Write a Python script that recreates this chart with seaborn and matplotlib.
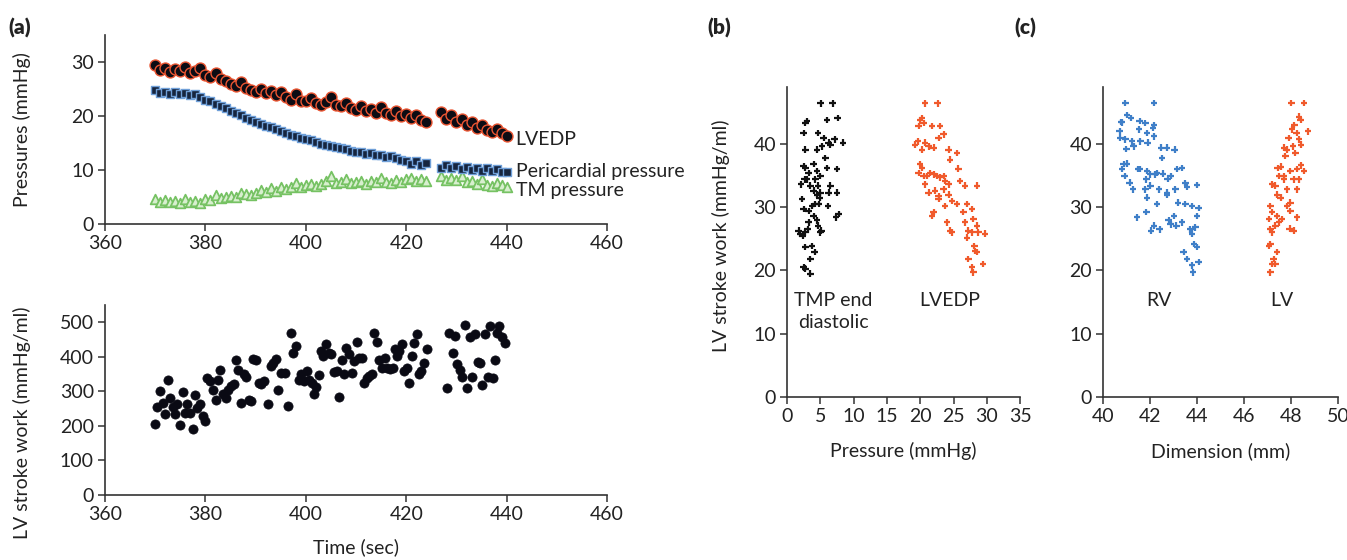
import matplotlib
matplotlib.use("Agg")
import matplotlib.pyplot as plt
import seaborn as sns
import pandas as pd

sns.set_theme(style="ticks")
plt.rcParams['font.family'] = ['Lato', 'DejaVu Sans']

# ---- panel (a) top: pressures vs time (1 s resolution, gap at 425-426 s)
time_s = [370, 371, 372, 373, 374, 375, 376, 377, 378, 379,
          380, 381, 382, 383, 384, 385, 386, 387, 388, 389,
          390, 391, 392, 393, 394, 395, 396, 397, 398, 399,
          400, 401, 402, 403, 404, 405, 406, 407, 408, 409,
          410, 411, 412, 413, 414, 415, 416, 417, 418, 419,
          420, 421, 422, 423, 424,
          427, 428, 429, 430, 431, 432, 433, 434, 435, 436, 437, 438, 439, 440]
lvedp = [29.5, 28.6, 28.9, 28.2, 28.7, 28.4, 29.0, 27.9, 28.3, 28.8,
         27.6, 27.2, 27.9, 26.8, 26.4, 26.0, 25.6, 26.3, 25.2, 24.8,
         24.5, 25.0, 24.2, 24.6, 23.9, 24.5, 23.5, 23.0, 24.0, 22.8,
         22.7, 23.4, 22.4, 22.0, 22.6, 23.5, 22.0, 21.8, 22.5, 21.4,
         21.2, 21.8, 20.9, 21.3, 20.6, 21.6, 20.5, 20.2, 20.9, 20.0,
         20.3, 19.6, 20.1, 19.3, 18.9,
         20.8, 19.5, 20.2, 18.9, 19.4, 18.3, 18.9, 17.8, 18.4, 17.5, 17.0, 17.6, 16.9, 16.3]
pericardial = [24.8, 24.3, 24.5, 24.0, 24.4, 24.1, 24.3, 23.8, 24.0, 23.5,
               23.0, 22.8, 22.3, 21.9, 21.4, 20.9, 20.5, 20.1, 19.6, 19.2,
               18.8, 18.6, 18.2, 17.9, 17.6, 17.3, 16.8, 16.5, 16.3, 16.0,
               15.7, 15.5, 15.1, 14.9, 14.6, 14.4, 14.3, 14.0, 13.8, 13.6,
               13.4, 13.3, 13.0, 13.1, 12.8, 12.7, 12.4, 12.6, 12.2, 11.9,
               11.7, 11.2, 11.6, 11.0, 11.3,
               10.3, 10.9, 10.4, 10.7, 10.2, 10.6, 10.0, 10.4, 9.9, 10.3, 9.8, 10.1, 9.6, 9.6]
tm_pressure = [4.7, 4.1, 4.4, 4.0, 4.3, 3.9, 4.6, 4.0, 4.2, 3.8,
               4.6, 4.4, 5.3, 4.8, 5.0, 5.2, 5.0, 5.8, 5.5, 5.3,
               5.8, 6.3, 5.9, 6.6, 6.2, 6.8, 6.5, 6.9, 7.6, 6.9,
               7.2, 7.5, 7.1, 7.4, 8.0, 8.8, 7.6, 7.8, 8.4, 7.6,
               7.7, 8.0, 7.5, 7.9, 7.7, 8.5, 7.8, 7.6, 8.2, 7.8,
               8.3, 8.6, 8.0, 8.3, 7.9,
               8.8, 8.2, 8.5, 8.1, 8.9, 7.7, 7.9, 7.4, 8.3, 7.2, 7.0, 7.6, 7.2, 6.9]

# ---- panel (a) bottom: LV stroke work vs time
sw_time = [370.0, 371.0, 370.4, 371.5, 372.0, 372.5, 372.9, 373.5, 373.9, 374.4,
           374.9, 375.5, 375.9, 376.4, 376.9, 377.5, 377.9, 378.4, 378.9, 379.5,
           380.0, 380.4, 380.9, 381.5, 382.0, 382.4, 382.9, 383.4, 384.0, 384.5,
           385.0, 385.6, 386.0, 386.5, 387.0, 387.6, 388.1, 388.6, 389.1, 389.5,
           390.1, 390.6, 391.1, 391.7, 392.5, 393.0, 393.5, 394.1, 394.5, 395.0,
           395.9, 396.5, 397.0, 397.5, 398.0, 398.6, 399.1, 399.6, 400.2, 400.7,
           401.2, 401.6, 402.0, 402.6, 403.0, 403.5, 404.0, 404.6, 405.1, 405.6,
           406.2, 406.6, 407.1, 407.5, 408.0, 408.5, 409.1, 409.6, 410.1, 410.5,
           411.1, 411.6, 412.1, 412.6, 413.1, 413.6, 414.1, 414.6, 415.2, 415.7,
           416.2, 416.8, 417.3, 417.7, 418.1, 418.6, 419.1, 419.6, 420.1, 420.6,
           421.1, 421.6, 422.1, 422.6, 423.0, 423.5, 424.1,
           428.1, 428.6, 429.3, 429.7, 430.2, 430.7, 431.1, 431.6, 432.1, 432.6,
           433.0, 433.7, 434.2, 434.7, 435.1, 435.6, 436.2, 436.7, 437.2, 437.7,
           438.0, 438.5, 439.1, 439.6]
sw_value = [206, 300, 255, 265, 235, 334, 281, 255, 235, 262,
            202, 297, 237, 262, 237, 191, 288, 252, 262, 228,
            213, 339, 329, 305, 276, 334, 361, 291, 281, 305,
            315, 320, 390, 361, 266, 349, 342, 276, 271, 394,
            390, 323, 320, 329, 264, 373, 383, 394, 303, 354,
            354, 259, 470, 412, 431, 334, 349, 329, 359, 334,
            325, 291, 313, 346, 417, 402, 436, 412, 407, 356,
            359, 283, 392, 349, 426, 407, 354, 388, 443, 397,
            397, 325, 339, 344, 349, 470, 443, 392, 368, 397,
            368, 365, 368, 422, 402, 417, 436, 359, 368, 325,
            402, 441, 465, 349, 359, 383, 422,
            310, 470, 412, 460, 378, 363, 342, 491, 310, 458,
            342, 465, 385, 383, 317, 465, 342, 489, 339, 390,
            470, 489, 458, 441]

# ---- panel (b): stroke work vs pressure
tmp_pressure = [5.05, 6.85, 2.75, 3.0, 6.0, 7.6, 2.5, 4.65, 5.5, 6.25,
                7.15, 8.4, 2.75, 4.5, 5.25, 6.5, 5.75, 2.5, 2.75, 3.25,
                4.0, 4.5, 5.0, 6.0, 7.5, 2.1, 3.0, 3.5, 4.25, 4.65,
                5.0, 4.5, 4.9, 6.5, 6.25, 7.5, 2.5, 3.25, 3.75, 4.25,
                6.15, 7.75, 7.35, 3.25, 4.0, 4.5, 4.65, 5.0, 1.75, 2.0,
                2.75, 3.1, 2.35, 5.15, 2.75, 3.75, 4.15, 3.5, 2.5, 2.75,
                3.5, 4.75, 4.0, 2.25, 2.65]
tmp_sw = [46.4, 46.4, 43.3, 43.6, 43.8, 44.1, 41.7, 41.7, 40.9, 40.2,
          40.7, 40.2, 39.1, 39.1, 39.6, 39.9, 37.8, 36.5, 36.2, 35.4,
          36.8, 35.7, 34.9, 36.2, 36.0, 33.6, 34.4, 33.4, 34.4, 33.4,
          32.3, 32.0, 31.5, 33.4, 32.3, 32.3, 29.7, 29.4, 30.2, 30.5,
          30.2, 28.9, 28.4, 27.6, 28.6, 27.9, 27.1, 26.0, 26.3, 25.8,
          26.0, 26.5, 25.5, 26.3, 23.7, 23.9, 22.9, 21.8, 20.5, 20.3,
          19.5, 30.5, 32.6, 31.3, 34.4]
lvedp_pressure = [20.75, 22.6, 20.0, 20.25, 20.5, 19.75, 21.75, 23.0, 19.25, 19.65,
                  20.25, 20.75, 21.25, 22.0, 22.75, 23.5, 24.25, 25.5, 24.5, 20.0,
                  20.25, 19.75, 20.5, 21.0, 21.5, 22.0, 22.5, 23.0, 23.5, 23.75,
                  24.25, 25.75, 26.0, 26.75, 20.75, 21.25, 22.25, 22.75, 23.5, 24.25,
                  24.75, 25.5, 27.0, 22.75, 21.75, 22.0, 23.75, 26.5, 27.75, 24.0,
                  24.5, 24.75, 26.75, 27.25, 27.0, 28.0, 28.5, 28.75, 27.75, 28.5,
                  29.75, 28.15, 28.25, 28.5, 27.25, 27.75, 28.0, 29.4]
lvedp_sw = [46.4, 46.4, 43.8, 44.1, 43.3, 42.8, 42.8, 42.8, 39.9, 40.4,
            39.1, 40.2, 39.6, 39.4, 40.9, 41.5, 39.1, 38.6, 37.5, 36.8,
            36.2, 35.4, 34.9, 34.9, 35.4, 35.2, 34.9, 34.7, 34.9, 34.1,
            33.6, 36.1, 34.1, 33.4, 33.6, 32.3, 32.6, 31.8, 32.8, 32.0,
            31.0, 30.5, 30.5, 31.3, 28.6, 29.2, 30.2, 29.2, 29.7, 27.6,
            26.3, 26.0, 27.6, 26.3, 25.2, 28.1, 27.1, 26.0, 26.0, 33.4,
            25.8, 23.9, 23.1, 22.9, 21.8, 20.5, 19.7, 21.0]

# ---- panel (c): stroke work vs dimension
rv_dim = [40.95, 42.16, 41.02, 41.19, 40.77, 40.81, 41.56, 41.80, 42.16, 42.13,
          41.52, 40.71, 40.74, 40.95, 40.99, 41.23, 41.30, 41.59, 41.87, 41.90,
          42.16, 42.47, 42.72, 43.05, 42.51, 40.88, 41.02, 40.81, 40.92, 41.13,
          41.28, 41.48, 41.56, 41.87, 41.84, 42.01, 42.23, 42.30, 42.54, 42.75,
          42.87, 43.15, 43.36, 43.50, 43.57, 44.00, 41.80, 41.87, 42.01, 42.37,
          42.72, 43.08, 43.18, 43.50, 43.79, 44.07, 41.45, 41.84, 42.04, 42.41,
          42.79, 42.87, 43.01, 43.12, 43.36, 43.72, 43.79, 43.93, 44.00, 43.86,
          44.00, 43.43, 43.57, 43.79, 44.07, 43.83, 42.30, 42.72, 42.16]
rv_sw = [46.5, 46.5, 44.6, 44.1, 43.5, 43.4, 43.6, 43.3, 43.0, 42.5,
         42.3, 42.0, 40.9, 40.7, 39.2, 40.4, 39.6, 40.4, 41.7, 40.2,
         41.2, 39.4, 39.4, 39.1, 37.8, 36.8, 36.9, 36.0, 34.9, 33.9,
         32.8, 36.0, 36.0, 35.7, 34.4, 35.2, 35.2, 35.4, 35.3, 34.5,
         34.9, 36.0, 36.2, 33.8, 33.2, 33.5, 32.8, 31.5, 33.4, 32.8,
         32.3, 32.8, 30.7, 30.5, 30.2, 29.9, 28.4, 29.2, 26.3, 26.5,
         27.9, 27.3, 28.6, 27.1, 27.6, 26.5, 25.8, 26.8, 28.6, 24.2,
         23.7, 22.9, 21.8, 20.8, 21.3, 19.7, 30.5, 32.0, 27.1]
lv_dim = [48.01, 48.54, 48.33, 48.40, 48.14, 48.04, 48.23, 48.71, 47.90, 48.33,
          48.43, 47.69, 47.83, 48.09, 47.76, 48.18, 47.43, 47.55, 47.97, 48.26,
          48.43, 48.54, 48.11, 48.33, 47.19, 47.33, 47.69, 47.83, 48.26, 47.40,
          47.55, 47.83, 47.97, 47.12, 47.19, 47.05, 47.40, 47.62, 47.97, 48.26,
          47.12, 47.19, 47.33, 47.48, 47.94, 48.11, 47.12, 47.05, 47.40, 47.26,
          47.19, 47.12, 47.33, 47.69, 47.48]
lv_sw = [46.5, 46.5, 44.3, 43.8, 43.0, 42.3, 41.7, 42.0, 40.9, 40.7,
         39.9, 39.4, 39.1, 39.6, 38.1, 38.6, 36.2, 36.4, 35.7, 36.0,
         36.6, 35.7, 34.4, 34.4, 33.6, 33.4, 34.4, 32.8, 32.8, 32.0,
         31.5, 30.2, 30.7, 30.2, 29.2, 28.1, 28.6, 28.1, 29.4, 28.4,
         26.5, 26.0, 27.1, 27.6, 26.6, 26.3, 24.2, 23.9, 22.9, 21.8,
         21.0, 19.7, 21.0, 34.9, 34.9]

RED = "#ea5532"
BLUE = "#3f7fc8"
DARK = "#222222"

fig = plt.figure(figsize=(13.47, 5.6), dpi=100)
ax1 = fig.add_axes([0.078, 0.600, 0.3727, 0.3375])
ax2 = fig.add_axes([0.078, 0.1161, 0.3727, 0.3393])
ax3 = fig.add_axes([0.5843, 0.2911, 0.1730, 0.5536])
ax4 = fig.add_axes([0.8189, 0.2911, 0.1745, 0.5536])

press = pd.DataFrame({"t": time_s, "lvedp": lvedp, "peri": pericardial, "tm": tm_pressure})
sns.scatterplot(data=press, x="t", y="tm", ax=ax1, marker="^", s=48,
                color="#d8efcf", edgecolor="#76c263", linewidth=1.3, zorder=2)
sns.scatterplot(data=press, x="t", y="peri", ax=ax1, marker="s", s=34,
                color="#16253f", edgecolor="#6f9fd8", linewidth=1.0, zorder=3)
sns.scatterplot(data=press, x="t", y="lvedp", ax=ax1, marker="o", s=62,
                color="#0c0c14", edgecolor=RED, linewidth=1.0, zorder=4)

sw = pd.DataFrame({"t": sw_time, "sw": sw_value})
sns.scatterplot(data=sw, x="t", y="sw", ax=ax2, marker="o", s=44,
                color="#0a0a14", edgecolor="#0a0a14", linewidth=0.5)

bdf = pd.concat([pd.DataFrame({"p": tmp_pressure, "sw": tmp_sw, "k": "TMP"}),
                 pd.DataFrame({"p": lvedp_pressure, "sw": lvedp_sw, "k": "LVEDP"})])
sns.scatterplot(data=bdf, x="p", y="sw", hue="k", palette={"TMP": "#111111", "LVEDP": "#f05a2c"},
                ax=ax3, marker="+", s=22, linewidth=1.6, legend=False)

cdf = pd.concat([pd.DataFrame({"d": rv_dim, "sw": rv_sw, "k": "RV"}),
                 pd.DataFrame({"d": lv_dim, "sw": lv_sw, "k": "LV"})])
sns.scatterplot(data=cdf, x="d", y="sw", hue="k", palette={"RV": BLUE, "LV": "#f05a2c"},
                ax=ax4, marker="+", s=22, linewidth=1.6, legend=False)

FS = 14
for ax in (ax1, ax2, ax3, ax4):
    sns.despine(ax=ax)
    for side in ("left", "bottom"):
        ax.spines[side].set_color("#333333")
        ax.spines[side].set_linewidth(1.2)
    ax.tick_params(direction="out", length=5, width=1.1, color="#333333",
                   labelsize=FS, labelcolor=DARK, pad=3)
    ax.set_xlabel("")
    ax.set_ylabel("")

ax1.set_xlim(360, 460)
ax1.set_ylim(0, 35)
ax1.set_xticks([360, 380, 400, 420, 440, 460])
ax1.set_yticks([0, 10, 20, 30])
ax1.set_ylabel("Pressures (mmHg)", fontsize=FS, color=DARK)
ax1.yaxis.set_label_coords(-0.148, 0.5)
ax1.text(441.7, 15.7, "LVEDP", fontsize=FS, color=DARK, va="center", clip_on=False)
ax1.text(441.9, 9.7, "Pericardial pressure", fontsize=FS, color=DARK, va="center", clip_on=False)
ax1.text(441.9, 6.2, "TM pressure", fontsize=FS, color=DARK, va="center", clip_on=False)

ax2.set_xlim(360, 460)
ax2.set_ylim(0, 550)
ax2.set_xticks([360, 380, 400, 420, 440, 460])
ax2.set_yticks([0, 100, 200, 300, 400, 500])
ax2.set_ylabel("LV stroke work (mmHg/ml)", fontsize=FS, color=DARK)
ax2.yaxis.set_label_coords(-0.148, 0.38)
ax2.set_xlabel("Time (sec)", fontsize=FS, color=DARK)
ax2.xaxis.set_label_coords(0.5, -0.23)

ax3.set_xlim(0, 35)
ax3.set_ylim(0, 49)
ax3.set_xticks([0, 5, 10, 15, 20, 25, 30, 35])
ax3.set_yticks([0, 10, 20, 30, 40])
ax3.set_ylabel("LV stroke work (mmHg/ml)", fontsize=FS, color=DARK)
ax3.yaxis.set_label_coords(-0.245, 0.52)
ax3.set_xlabel("Pressure (mmHg)", fontsize=FS, color=DARK)
ax3.xaxis.set_label_coords(0.5, -0.145)
ax3.text(7.0, 13.5, "TMP end\ndiastolic", fontsize=FS, color=DARK, ha="center", va="center",
         linespacing=1.3)
ax3.text(24.5, 15.3, "LVEDP", fontsize=FS, color=DARK, ha="center", va="center")

ax4.set_xlim(40, 50)
ax4.set_ylim(0, 49)
ax4.set_xticks([40, 42, 44, 46, 48, 50])
ax4.set_yticks([0, 10, 20, 30, 40])
ax4.set_xlabel("Dimension (mm)", fontsize=FS, color=DARK)
ax4.xaxis.set_label_coords(0.5, -0.145)
ax4.text(42.37, 15.3, "RV", fontsize=FS, color=DARK, ha="center", va="center")
ax4.text(47.6, 15.3, "LV", fontsize=FS, color=DARK, ha="center", va="center")

for lab, xp in (("(a)", 8), ("(b)", 707), ("(c)", 1014)):
    fig.text(xp / 1347, 1 - 28 / 560, lab, fontsize=15, fontweight="heavy", color=DARK,
             ha="left", va="center")

fig.savefig("out.png", dpi=100, facecolor="white")
